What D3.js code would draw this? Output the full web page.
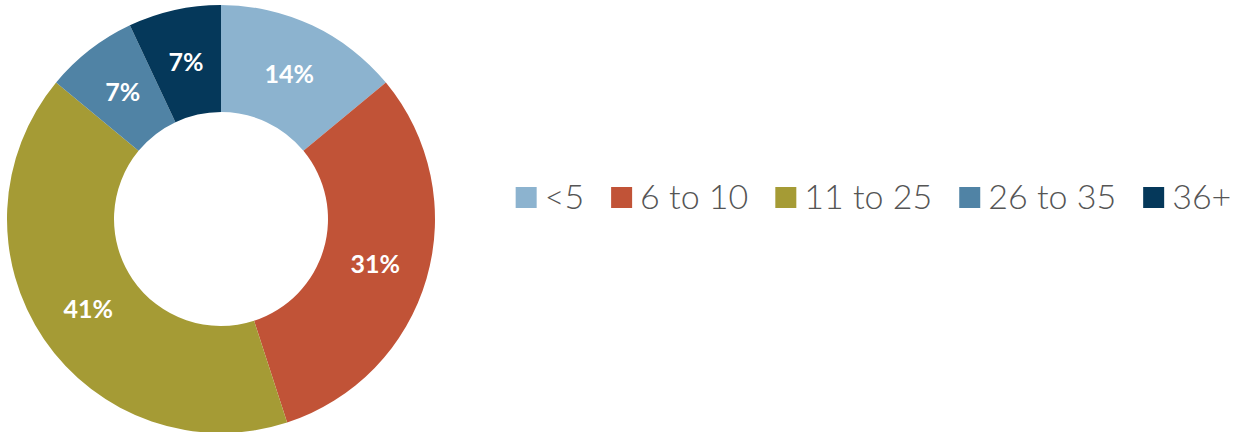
<!DOCTYPE html>
<html>
<head>
<meta charset="utf-8">
<script src="https://cdn.jsdelivr.net/npm/d3@7"></script>
<style>
  html, body { margin: 0; padding: 0; background: #fff; }
  svg { display: block; }
</style>
</head>
<body>
<div id="chart"></div>
<script>
/*Chart data*/
const categories = ["<5", "6 to 10", "11 to 25", "26 to 35", "36+"];
const shares = [14, 31, 41, 7, 7];
const colours = ["#8cb3cf", "#c15337", "#a59b35", "#5083a5", "#05385a"];

const chartWidth = 1240;
const chartHeight = 432;
const cx = 221, cy = 219;
const outerR = 214, innerR = 107;

const svg = d3.select("#chart")
       .append("svg")
       .attr("width", chartWidth)
       .attr("height", chartHeight);

const colour = d3.scaleOrdinal().domain(categories).range(colours);

const pie = d3.pie().sort(null).value(d => d.value);
const arc = d3.arc().innerRadius(innerR).outerRadius(outerR);

const data = categories.map((c, i) => ({name: c, value: shares[i]}));

/*Donut*/
const g = svg.append("g").attr("transform", `translate(${cx},${cy})`);
const slices = g.selectAll("g.slice")
       .data(pie(data))
       .enter().append("g")
       .attr("class", "slice");

slices.append("path")
       .attr("d", arc)
       .attr("fill", d => colour(d.data.name));

slices.append("text")
       .attr("transform", d => `translate(${arc.centroid(d)})`)
       .attr("text-anchor", "middle")
       .attr("dy", "0.36em")
       .attr("fill", "#fff")
       .style("font-family", "Lato, sans-serif")
       .style("font-weight", 700)
       .style("font-size", "25px")
       .text(d => d.data.value + "%");

/*Legend*/
const legend = svg.append("g");
const sq = 21, textGap = 8, itemGap = 27;
let x = 0;
categories.forEach(c => {
       const item = legend.append("g").attr("transform", `translate(${x},0)`);
       item.append("rect")
              .attr("x", 0).attr("y", 187)
              .attr("width", sq).attr("height", sq)
              .attr("fill", colour(c));
       const t = item.append("text")
              .attr("x", sq + textGap).attr("y", 209)
              .attr("fill", "#555")
              .style("font-family", "Lato, sans-serif")
              .style("font-weight", 300)
              .style("font-size", "34px")
              .text(c);
       x += sq + textGap + t.node().getComputedTextLength() + itemGap;
});
const legendWidth = x - itemGap;
legend.attr("transform", `translate(${(517 + 1230) / 2 - legendWidth / 2},0)`);
</script>
</body>
</html>
